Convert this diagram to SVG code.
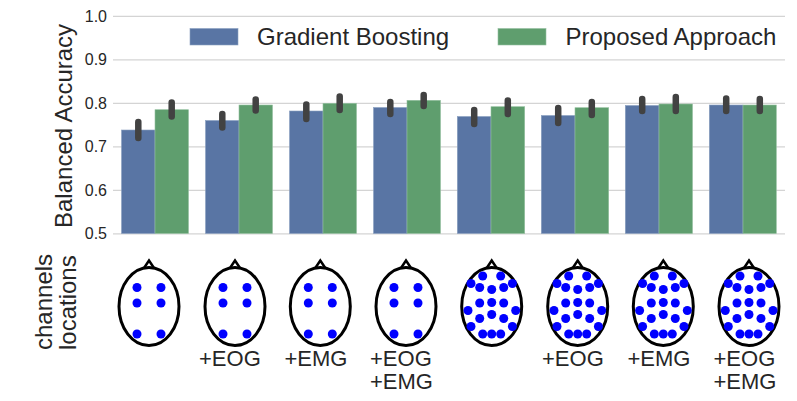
<svg xmlns="http://www.w3.org/2000/svg" width="797" height="401" viewBox="0 0 797 401">
<style>
text{font-family:"Liberation Sans",Arial,sans-serif;fill:#262626}
.tick{font-size:16px;text-anchor:end}
.leg{font-size:24px}
.lab{font-size:24px}
.cap{font-size:22px}
.grid{stroke:#d4d4d4;stroke-width:1.2}
.b{fill:#5975a4;stroke:#8aa0c0;stroke-width:.6}
.g{fill:#5f9e6e;stroke:#94c0a0;stroke-width:.6}
.err{stroke:#424242;stroke-width:6.500;stroke-linecap:round}
.head{fill:#fff;stroke:#000;stroke-width:3}
.nose{fill:#fff;stroke:#000;stroke-width:2.500;stroke-linejoin:miter}
.d{fill:#0000ff}
</style>
<defs>
<g id="shell">
<path class="nose" d="M-7 -35.500L0 -46L7 -35.500"/>
<ellipse class="head" cx="0" cy="0" rx="30" ry="39"/>
</g>
<g id="sparse">
<use href="#shell"/>
<g class="d"><circle cx="-12" cy="-19" r="4.500"/><circle cx="12" cy="-19" r="4.500"/><circle cx="-12" cy="-3.500" r="4.500"/><circle cx="12" cy="-3.500" r="4.500"/><circle cx="-12" cy="27.500" r="4.500"/><circle cx="12" cy="27.500" r="4.500"/></g>
</g>
<g id="dense">
<use href="#shell"/>
<g class="d">
<circle cx="-9" cy="-30.500" r="4.500"/><circle cx="9" cy="-30.500" r="4.500"/><circle cx="-20.700" cy="-23" r="4.500"/><circle cx="20.700" cy="-23" r="4.500"/><circle cx="-12" cy="-19" r="4.500"/><circle cx="0" cy="-17" r="4.500"/><circle cx="12" cy="-19" r="4.500"/><circle cx="-12" cy="-3.500" r="4.500"/><circle cx="0" cy="-4" r="4.500"/><circle cx="12" cy="-3.500" r="4.500"/><circle cx="-23.700" cy="4" r="4.500"/><circle cx="24" cy="4" r="4.500"/><circle cx="-12" cy="12" r="4.500"/><circle cx="0" cy="8" r="4.500"/><circle cx="12" cy="12" r="4.500"/><circle cx="-20.700" cy="20" r="4.500"/><circle cx="20.700" cy="20" r="4.500"/><circle cx="-9" cy="27.500" r="4.500"/><circle cx="0" cy="27.500" r="4.500"/><circle cx="9" cy="27.500" r="4.500"/>
</g>
</g>
</defs>
<rect width="797" height="401" fill="#fff"/>
<g id="grid">
<line class="grid" x1="113" x2="785" y1="16.300" y2="16.300"/>
<line class="grid" x1="113" x2="785" y1="59.800" y2="59.800"/>
<line class="grid" x1="113" x2="785" y1="103.300" y2="103.300"/>
<line class="grid" x1="113" x2="785" y1="146.800" y2="146.800"/>
<line class="grid" x1="113" x2="785" y1="190.300" y2="190.300"/>
<line class="grid" x1="113" x2="785" y1="233.800" y2="233.800"/>
</g>
<g id="ticks">
<text class="tick" x="107" y="21.500">1.0</text>
<text class="tick" x="107" y="65">0.9</text>
<text class="tick" x="107" y="108.500">0.8</text>
<text class="tick" x="107" y="152">0.7</text>
<text class="tick" x="107" y="195.500">0.6</text>
<text class="tick" x="107" y="239">0.5</text>
</g>
<text class="lab" transform="translate(72 228) rotate(-90)">Balanced Accuracy</text>
<g id="bars">
<rect class="b" x="121.500" y="130" width="33.500" height="103.500"/><rect class="g" x="155" y="109.700" width="33.500" height="123.800"/>
<rect class="b" x="205.500" y="120.500" width="33.500" height="113"/><rect class="g" x="239" y="105" width="33.500" height="128.500"/>
<rect class="b" x="289.500" y="111" width="33.500" height="122.500"/><rect class="g" x="323" y="103.300" width="33.500" height="130.200"/>
<rect class="b" x="373.500" y="107.500" width="33.500" height="126"/><rect class="g" x="407" y="100.300" width="33.500" height="133.200"/>
<rect class="b" x="457.300" y="116.500" width="33.700" height="117"/><rect class="g" x="491" y="106.700" width="33.700" height="126.800"/>
<rect class="b" x="541.300" y="115.500" width="33.700" height="118"/><rect class="g" x="575" y="107.700" width="33.700" height="125.800"/>
<rect class="b" x="625.300" y="105.500" width="33.700" height="128"/><rect class="g" x="659" y="104" width="33.500" height="129.500"/>
<rect class="b" x="709.300" y="105" width="33.700" height="128.500"/><rect class="g" x="743" y="105" width="33.300" height="128.500"/>
</g>
<g id="errorbars">
<line class="err" x1="138.300" x2="138.300" y1="122" y2="138"/><line class="err" x1="171.700" x2="171.700" y1="102.500" y2="116.500"/>
<line class="err" x1="222.300" x2="222.300" y1="114" y2="127.500"/><line class="err" x1="255.700" x2="255.700" y1="99.500" y2="110.500"/>
<line class="err" x1="306.300" x2="306.300" y1="104.500" y2="119"/><line class="err" x1="339.700" x2="339.700" y1="96.500" y2="110"/>
<line class="err" x1="390.300" x2="390.300" y1="102" y2="114"/><line class="err" x1="423.700" x2="423.700" y1="95" y2="106"/>
<line class="err" x1="474.200" x2="474.200" y1="110" y2="124"/><line class="err" x1="507.800" x2="507.800" y1="100.500" y2="114"/>
<line class="err" x1="558.200" x2="558.200" y1="108" y2="123"/><line class="err" x1="591.800" x2="591.800" y1="102" y2="115"/>
<line class="err" x1="642.200" x2="642.200" y1="99" y2="111"/><line class="err" x1="675.800" x2="675.800" y1="97" y2="111"/>
<line class="err" x1="726.200" x2="726.200" y1="98.500" y2="111"/><line class="err" x1="759.800" x2="759.800" y1="99" y2="111"/>
</g>
<g id="legend">
<rect class="b" x="190" y="28.500" width="48" height="16.500"/>
<text class="leg" x="257" y="45">Gradient Boosting</text>
<rect class="g" x="498" y="28.500" width="48" height="16.500"/>
<text class="leg" x="565.500" y="45">Proposed Approach</text>
</g>
<g id="row-label">
<text class="lab" transform="translate(52 350) rotate(-90)">channels</text>
<text class="lab" transform="translate(76 350) rotate(-90)">locations</text>
</g>
<g id="head-1"><use href="#sparse" x="149" y="306.500"/></g>
<g id="head-2"><use href="#sparse" x="235" y="306.500"/></g>
<g id="head-3"><use href="#sparse" x="320.300" y="306.500"/></g>
<g id="head-4"><use href="#sparse" x="406" y="306.500"/></g>
<g id="head-5"><use href="#dense" x="491.700" y="306.500"/></g>
<g id="head-6"><use href="#dense" x="577.700" y="306.500"/></g>
<g id="head-7"><use href="#dense" x="663.300" y="306.500"/></g>
<g id="head-8"><use href="#dense" x="749" y="306.500"/></g>
<g id="captions">
<text class="cap" x="199" y="365.500">+EOG</text>
<text class="cap" x="284.500" y="365.500">+EMG</text>
<text class="cap" x="370" y="365.500">+EOG</text>
<text class="cap" x="370" y="389">+EMG</text>
<text class="cap" x="542" y="365.500">+EOG</text>
<text class="cap" x="627.500" y="365.500">+EMG</text>
<text class="cap" x="713.500" y="365.500">+EOG</text>
<text class="cap" x="713.500" y="389">+EMG</text>
</g>
</svg>
